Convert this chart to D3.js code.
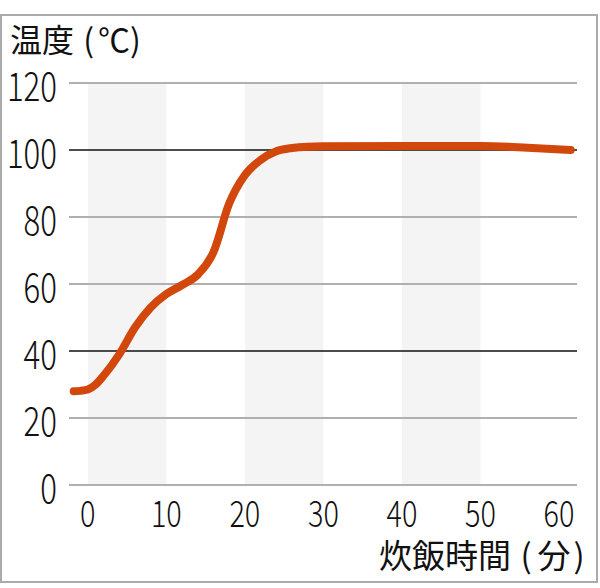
<!DOCTYPE html>
<html><head><meta charset="utf-8">
<script src="https://cdn.jsdelivr.net/npm/d3@7"></script>
<style>html,body{margin:0;padding:0;background:#fff;}svg{display:block;}</style>
</head><body>
<script>
const times = [-1.8, -1, 0, 1, 2, 4, 6, 8, 10, 12, 14, 16, 18, 20, 22, 24, 26, 28, 30, 40, 50, 56, 61.5];
const temps = [28, 28.1, 28.5, 30, 32.6, 39, 47, 53, 57, 59.7, 62.8, 69.5, 84, 92.5, 97, 99.6, 100.6, 101, 101.1, 101.2, 101.2, 100.7, 100];
const xTicks = [0, 10, 20, 30, 40, 50, 60];
const yTicks = [0, 20, 40, 60, 80, 100, 120];
const darkLines = [40, 100];
const bands = [[0, 10], [20, 30], [40, 50]];
const yTitleParts = [["温度", 0], [" (", 2], ["℃", 4], [")", 0]];
const xTitleParts = [["炊飯時間", 0], [" (", 2], ["分", 6], [")", 3]];

const W = 600, H = 588;
const svg = d3.select("body").append("svg").attr("width", W).attr("height", H);
const x = d3.scaleLinear().domain([-2.4, 62.3]).range([69, 577]);
const y = d3.scaleLinear().domain([0, 120]).range([485, 83]);
const font = "'Noto Sans CJK JP', 'Noto Sans', sans-serif";

// frame
svg.append("rect").attr("x", 1).attr("y", 15).attr("width", 596).attr("height", 567)
  .attr("fill", "none").attr("stroke", "#ababab").attr("stroke-width", 2);

// bands
svg.append("g").selectAll("rect").data(bands).join("rect")
  .attr("x", d => x(d[0])).attr("width", d => x(d[1]) - x(d[0]))
  .attr("y", y(120)).attr("height", y(0) - y(120))
  .attr("fill", "#f4f4f4");

// gridlines
svg.append("g").selectAll("line").data(yTicks).join("line")
  .attr("x1", x.range()[0]).attr("x2", x.range()[1])
  .attr("y1", d => y(d)).attr("y2", d => y(d))
  .attr("stroke", d => darkLines.includes(d) ? "#111" : "#b0b0b0")
  .attr("stroke-width", d => darkLines.includes(d) ? 1.6 : 2);

// y tick labels
svg.append("g").selectAll("text").data(yTicks).join("text")
  .attr("transform", d => `translate(57,${y(d)}) scale(0.78,1)`)
  .attr("text-anchor", "end").attr("dominant-baseline", "central")
  .attr("font-family", font).attr("font-weight", 300).attr("font-size", 40).attr("fill", "#111")
  .text(d => d);

// x tick labels
svg.append("g").selectAll("text").data(xTicks).join("text")
  .attr("transform", d => `translate(${x(d)},511) scale(0.78,1)`)
  .attr("text-anchor", "middle").attr("dominant-baseline", "central")
  .attr("font-family", font).attr("font-weight", 300).attr("font-size", 37).attr("fill", "#111")
  .text(d => d);

// titles
const yt = svg.append("text").attr("x", 10).attr("y", 52)
  .attr("font-family", font).attr("font-size", 32).attr("fill", "#111");
yt.selectAll("tspan").data(yTitleParts).join("tspan").attr("dx", d => d[1]).text(d => d[0]);
const xt = svg.append("text").attr("x", 379).attr("y", 568)
  .attr("font-family", font).attr("font-size", 33).attr("fill", "#111");
xt.selectAll("tspan").data(xTitleParts).join("tspan").attr("dx", d => d[1]).text(d => d[0]);

// curve
const pts = times.map((t, i) => [t, temps[i]]);
const line = d3.line().x(d => x(d[0])).y(d => y(d[1])).curve(d3.curveMonotoneX);
svg.append("path").datum(pts).attr("d", line)
  .attr("fill", "none").attr("stroke", "#d2470c").attr("stroke-width", 8)
  .attr("stroke-linecap", "round").attr("stroke-linejoin", "round");
</script>
</body></html>
